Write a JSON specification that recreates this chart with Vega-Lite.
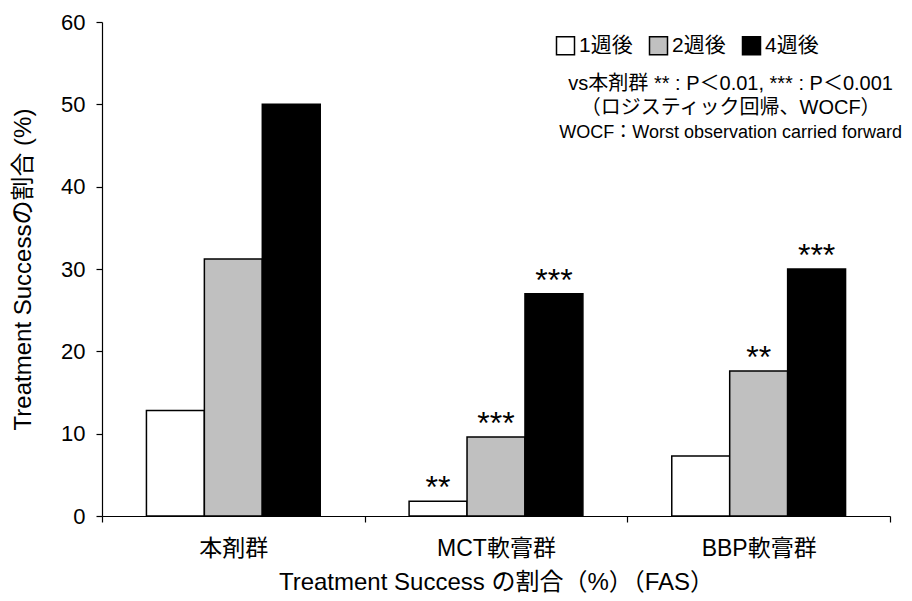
{
  "$schema": "https://vega.github.io/schema/vega-lite/v6.json",
  "autosize": "none",
  "padding": {"left": 102, "top": 22, "right": 22, "bottom": 85},
  "width": 788,
  "height": 494,
  "background": "white",
  "config": {
    "view": {"stroke": null},
    "font": "Liberation Sans, Noto Sans CJK JP",
    "text": {"font": "Liberation Sans, Noto Sans CJK JP"}
  },
  "datasets": {
    "bars": [
      {"group": "本剤群", "week": "1週後", "value": 12.8, "sig": ""},
      {"group": "本剤群", "week": "2週後", "value": 31.2, "sig": ""},
      {"group": "本剤群", "week": "4週後", "value": 50.0, "sig": ""},
      {"group": "MCT軟膏群", "week": "1週後", "value": 1.8, "sig": "**"},
      {"group": "MCT軟膏群", "week": "2週後", "value": 9.6, "sig": "***"},
      {"group": "MCT軟膏群", "week": "4週後", "value": 27.0, "sig": "***"},
      {"group": "BBP軟膏群", "week": "1週後", "value": 7.3, "sig": ""},
      {"group": "BBP軟膏群", "week": "2週後", "value": 17.6, "sig": "**"},
      {"group": "BBP軟膏群", "week": "4週後", "value": 30.0, "sig": "***"}
    ],
    "notes": [
      {"group": "BBP軟膏群", "y": 52.5, "label": "vs本剤群 ** : P＜0.01, *** : P＜0.001", "size": 20},
      {"group": "BBP軟膏群", "y": 49.6, "label": "（ロジスティック回帰、WOCF）", "size": 20},
      {"group": "BBP軟膏群", "y": 46.5, "label": "WOCF：Worst observation carried forward", "size": 18}
    ]
  },
  "layer": [
    {
      "data": {"name": "bars"},
      "mark": {"type": "bar", "stroke": "black", "strokeWidth": 1.5},
      "encoding": {
        "x": {
          "field": "group", "type": "nominal", "sort": ["本剤群", "MCT軟膏群", "BBP軟膏群"],
          "scale": {"paddingInner": 0, "paddingOuter": 0},
          "axis": {
            "title": "Treatment Success の割合（%）（FAS）",
            "titleFontSize": 24, "titleFontWeight": "normal", "titleColor": "black",
            "titlePadding": 10,
            "labelAngle": 0, "labelFontSize": 23, "labelColor": "black", "labelPadding": 15,
            "tickBand": "extent", "tickSize": 6, "tickColor": "black",
            "domainColor": "black", "domainWidth": 1.2, "tickWidth": 1.2
          }
        },
        "xOffset": {
          "field": "week", "type": "nominal",
          "scale": {"paddingInner": 0, "paddingOuter": 0.767}
        },
        "y": {
          "field": "value", "type": "quantitative",
          "scale": {"domain": [0, 60]},
          "axis": {
            "title": "Treatment Successの割合 (%)",
            "titleFontSize": 24, "titleFontWeight": "normal", "titleColor": "black",
            "titlePadding": 25,
            "values": [0, 10, 20, 30, 40, 50, 60],
            "labelFontSize": 22, "labelColor": "black", "labelPadding": 11,
            "tickSize": 6, "tickColor": "black", "tickWidth": 1.2,
            "domainColor": "black", "domainWidth": 1.2, "grid": false
          }
        },
        "fill": {
          "field": "week", "type": "nominal",
          "scale": {"domain": ["1週後", "2週後", "4週後"], "range": ["white", "#c0c0c0", "black"]},
          "legend": {
            "title": null, "orient": "none", "direction": "horizontal",
            "legendX": 453, "legendY": 13,
            "symbolType": "square", "symbolSize": 324, "symbolStrokeColor": "black",
            "symbolStrokeWidth": 1.5,
            "labelFontSize": 21, "labelColor": "black", "labelOffset": 3,
            "columnPadding": 13
          }
        }
      }
    },
    {
      "data": {"name": "bars"},
      "mark": {"type": "text", "fontSize": 32, "baseline": "alphabetic", "dy": -3, "color": "black"},
      "encoding": {
        "x": {"field": "group", "type": "nominal", "sort": ["本剤群", "MCT軟膏群", "BBP軟膏群"]},
        "xOffset": {"field": "week", "type": "nominal"},
        "y": {"field": "value", "type": "quantitative"},
        "text": {"field": "sig"}
      }
    },
    {
      "data": {"name": "notes"},
      "mark": {"type": "text", "align": "center", "baseline": "middle", "dx": -28, "color": "black"},
      "encoding": {
        "x": {"field": "group", "type": "nominal", "sort": ["本剤群", "MCT軟膏群", "BBP軟膏群"]},
        "y": {"field": "y", "type": "quantitative"},
        "text": {"field": "label"},
        "size": {"field": "size", "type": "quantitative", "scale": null, "legend": null}
      }
    }
  ]
}
